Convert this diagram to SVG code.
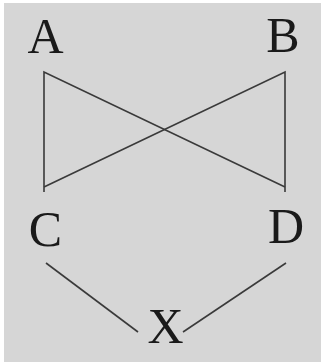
<svg xmlns="http://www.w3.org/2000/svg" width="321" height="362" viewBox="0 0 321 362">
<style>
.lbl{font-family:"Liberation Serif","Times New Roman",serif;font-size:50px;fill:#1a1a1a;text-anchor:middle}
.ln{stroke:#3a3a3a;stroke-width:1.6;fill:none;stroke-linecap:butt;stroke-linejoin:miter}
</style>
<rect x="0" y="0" width="321" height="362" fill="#ffffff"/>
<rect x="4" y="3" width="317" height="359" fill="#d6d6d6"/>
<g id="connectors">
<path class="ln" d="M44,192 V72 L285,187"/>
<path class="ln" d="M285,192 V72 L44,187"/>
<path class="ln" d="M46,263 L138,332"/>
<path class="ln" d="M286,263 L183,332"/>
</g>
<g id="node-A"><text class="lbl" x="45.5" y="53">A</text></g>
<g id="node-B"><text class="lbl" x="283" y="52">B</text></g>
<g id="node-C"><text class="lbl" x="45.5" y="246">C</text></g>
<g id="node-D"><text class="lbl" x="286" y="243">D</text></g>
<g id="node-X"><text class="lbl" x="165.5" y="343">X</text></g>
</svg>
